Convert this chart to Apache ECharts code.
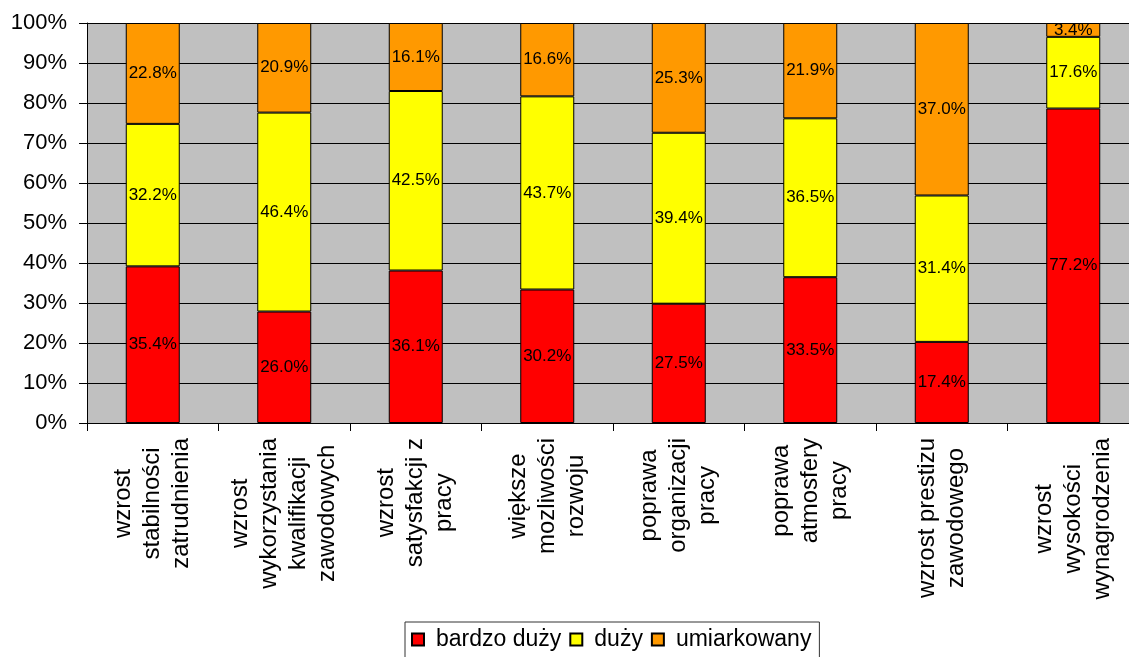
<!DOCTYPE html>
<html>
<head>
<meta charset="utf-8">
<script src="https://cdn.jsdelivr.net/npm/echarts@6/dist/echarts.min.js"></script>
<style>
  html, body { margin: 0; padding: 0; background: #fff; overflow: hidden; width: 1129px; height: 657px; }
  /* the plot area runs slightly past the right edge of the page */
  #chart { width: 1145px; height: 657px; }
</style>
</head>
<body>
<div id="chart"></div>
<script>
// Categories (multi-line labels)
const categories = [
  'wzrost\nstabilności\nzatrudnienia',
  'wzrost\nwykorzystania\nkwalifikacji\nzawodowych',
  'wzrost\nsatysfakcji z\npracy',
  'większe\nmozliwości\nrozwoju',
  'poprawa\norganizacji\npracy',
  'poprawa\natmosfery\npracy',
  'wzrost prestizu\nzawodowego',
  'wzrost\nwysokości\nwynagrodzenia'
];

// Shares of answers (%) per category
const bardzoDuzy   = [35.4, 26.0, 36.1, 30.2, 27.5, 33.5, 17.4, 77.2];
const duzy         = [32.2, 46.4, 42.5, 43.7, 39.4, 36.5, 31.4, 17.6];
const umiarkowany  = [22.8, 20.9, 16.1, 16.6, 25.3, 21.9, 37.0, 3.4];

const seriesNames  = ['bardzo duży', 'duży', 'umiarkowany'];
const seriesColors = ['#FF0000', '#FFFF00', '#FF9900'];
const yTicks = [0, 10, 20, 30, 40, 50, 60, 70, 80, 90, 100];

const FONT = '"Liberation Sans", Arial, sans-serif';

// 100% stacked: each column is scaled so its segments fill the full height
const raw = [bardzoDuzy, duzy, umiarkowany];
const totals = categories.map((_, i) => raw.reduce((s, arr) => s + arr[i], 0));

const series = raw.map((arr, k) => ({
  name: seriesNames[k],
  type: 'bar',
  stack: 'total',
  barWidth: 54,
  data: arr.map((v, i) => v / totals[i] * 100),
  itemStyle: { color: seriesColors[k], borderColor: '#000', borderWidth: 1 },
  label: {
    show: true,
    position: 'inside',
    color: '#000',
    fontFamily: FONT,
    fontSize: 17,
    formatter: p => arr[p.dataIndex].toFixed(1) + '%'
  },
  emphasis: { disabled: true }
}));

const chart = echarts.init(document.getElementById('chart'), null, { renderer: 'canvas' });
chart.setOption({
  animation: false,
  backgroundColor: '#fff',
  grid: {
    left: 87, top: 23, height: 400, width: 1052,
    show: true, backgroundColor: '#C0C0C0', borderWidth: 0
  },
  legend: {
    data: seriesNames,
    left: 405,
    top: 622,
    padding: [6, 8, 10, 6],
    itemGap: 8,
    itemWidth: 12,
    itemHeight: 12,
    icon: 'rect',
    borderColor: '#333',
    borderWidth: 1,
    borderRadius: 0,
    textStyle: { fontFamily: FONT, fontSize: 23, color: '#000', padding: [0, 0, 0, 7] }
  },
  xAxis: {
    type: 'category',
    data: categories,
    axisLine: { show: true, lineStyle: { color: '#000', width: 1 } },
    axisTick: { show: true, alignWithLabel: false, length: 8, lineStyle: { color: '#000' } },
    axisLabel: {
      interval: 0,
      rotate: 90,
      margin: 15,
      color: '#000',
      fontFamily: FONT,
      fontSize: 24,
      lineHeight: 29,
      formatter: v => v.split('\n').map(l => '{c|' + l + '}').join('\n'),
      rich: { c: { align: 'center', fontFamily: FONT, fontSize: 24, lineHeight: 29, color: '#000' } }
    }
  },
  yAxis: {
    type: 'value',
    min: yTicks[0],
    max: yTicks[yTicks.length - 1],
    interval: yTicks[1] - yTicks[0],
    axisLine: { show: true, lineStyle: { color: '#000', width: 1 } },
    axisTick: { show: true, length: 8, lineStyle: { color: '#000' } },
    splitLine: { show: true, lineStyle: { color: '#000', width: 1 } },
    axisLabel: {
      margin: 20,
      color: '#000',
      fontFamily: FONT,
      fontSize: 22,
      formatter: '{value}%'
    }
  },
  series: series
});
</script>
</body>
</html>
